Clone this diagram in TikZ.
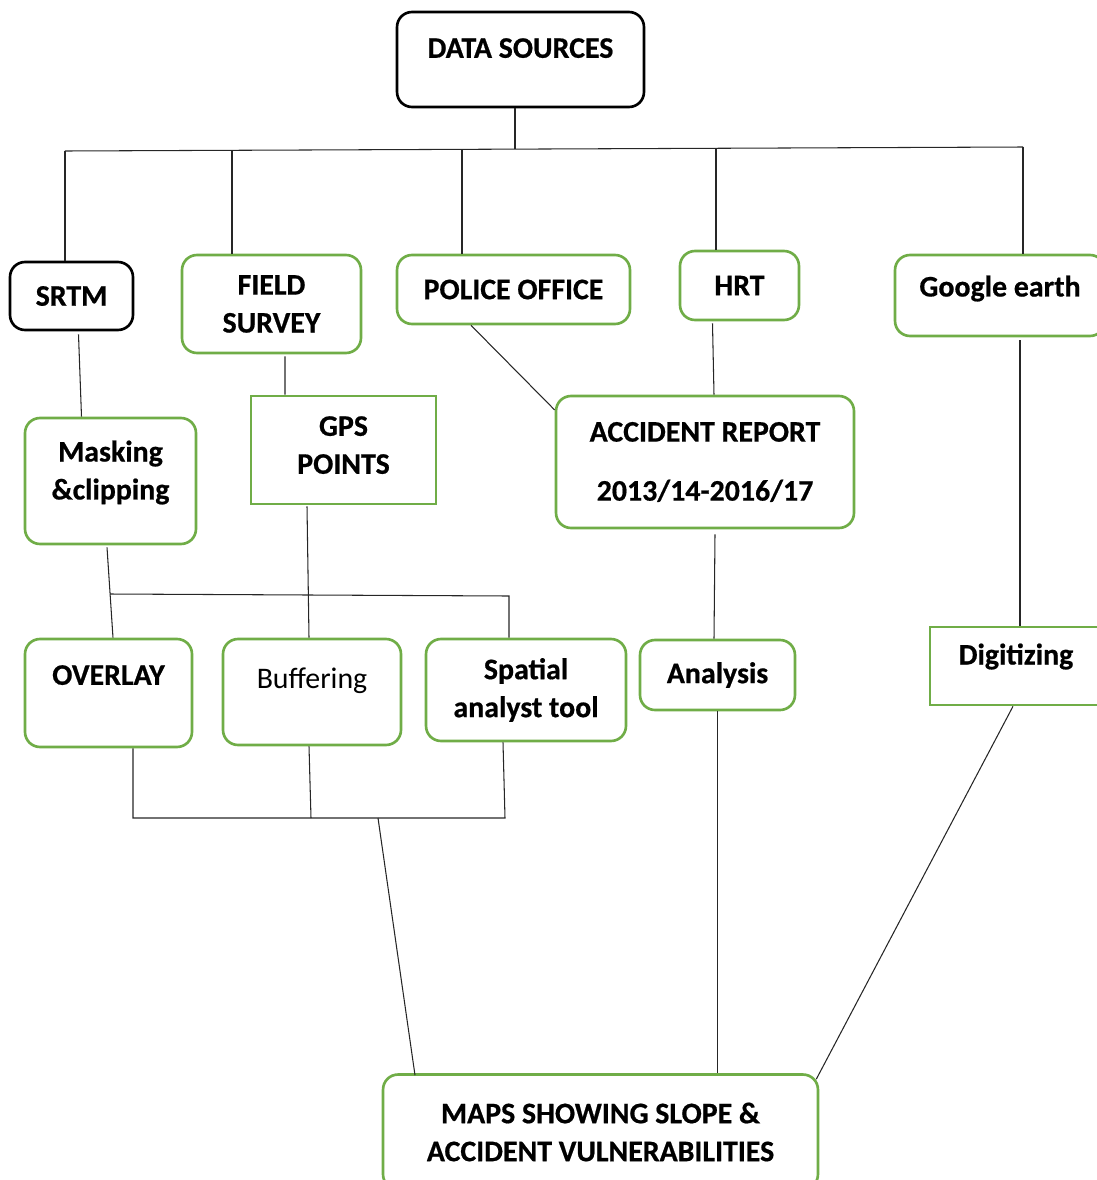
\documentclass[tikz,border=0pt]{standalone}
\usepackage{fontspec}
\setmainfont{Carlito}[BoldFeatures={FakeBold=0.6}]
\usetikzlibrary{calc}
\definecolor{boxgreen}{HTML}{70AD47}
\tikzset{
  gbox/.style = {draw=boxgreen, line width=1.5pt, rounded corners=0.3cm, fill=white,
                 font=\fontsize{17}{21.6}\selectfont\bfseries, align=center, inner sep=0pt},
  kbox/.style = {gbox, draw=black},
  sbox/.style = {gbox, rounded corners=0pt},
  conn/.style = {draw=black!85, line width=0.6pt}
}

\begin{document}
\begin{tikzpicture}[x=0.02cm, y=-0.02cm]
\useasboundingbox (0,0) rectangle (1097,1180);
\clip (0,0) rectangle (1097,1180);

% boxes
\node[kbox, minimum width=4.94cm, minimum height=1.9cm, text depth=0.46cm] (ds) at (520.5,59.5) {DATA SOURCES};
\node[kbox, minimum width=2.46cm, minimum height=1.36cm] (srtm) at (71.5,296) {SRTM};
\node[gbox, minimum width=3.58cm, minimum height=1.96cm] (field) at (271.5,304) {FIELD\\SURVEY};
\node[gbox, minimum width=4.66cm, minimum height=1.38cm] (police) at (513.5,289.5) {POLICE OFFICE};
\node[gbox, minimum width=2.38cm, minimum height=1.38cm] (hrt) at (739.5,285.5) {HRT};
\node[gbox, minimum width=4.2cm, minimum height=1.62cm, text depth=0.38cm] (google) at (1000,295.5) {Google earth};
\node[gbox, minimum width=3.42cm, minimum height=2.52cm, text depth=0.44cm] (mask) at (110.5,481) {Masking\\\&clipping};
\node[sbox, minimum width=3.7cm, minimum height=2.16cm, text depth=0.2cm] (gps) at (343.5,450) {GPS\\POINTS};
\node[gbox, minimum width=5.96cm, minimum height=2.64cm] (acc) at (705,462) {ACCIDENT REPORT\\[12pt]2013/14-2016/17};
\node[gbox, minimum width=3.34cm, minimum height=2.16cm, text depth=0.72cm] (ov) at (108.5,693) {OVERLAY};
\node[gbox, minimum width=3.56cm, minimum height=2.12cm, text depth=0.56cm, font=\fontsize{17}{21.6}\selectfont] (buf) at (312,692) {Buffering};
\node[gbox, minimum width=4.0cm, minimum height=2.04cm] (spat) at (526,690) {Spatial\\analyst tool};
\node[gbox, minimum width=3.1cm, minimum height=1.4cm] (ana) at (717.5,675) {Analysis};
\node[sbox, minimum width=3.44cm, minimum height=1.56cm, text depth=0.48cm] (dig) at (1016,666) {Digitizing};
\node[gbox, minimum width=8.7cm, minimum height=2.3cm] (maps) at (600.5,1132) {MAPS SHOWING SLOPE \&\\ACCIDENT VULNERABILITIES};

% top bus
\coordinate (t1) at (65,151);
\coordinate (t2) at (232,150.5);
\coordinate (t3) at (462,149.5);
\coordinate (t4) at (515,149);
\coordinate (t5) at (716,148);
\coordinate (t6) at (1023,147);
\draw[conn] (t1) -- (t6);
\draw[conn] (t4 |- ds.south) -- (t4);
\draw[conn] (t1) -- (t1 |- srtm.north);
\draw[conn] (t2) -- (t2 |- field.north);
\draw[conn] (t3) -- (t3 |- police.north);
\draw[conn] (t5) -- (t5 |- hrt.north);
\draw[conn] (t6) -- (t6 |- google.north);

% second row
\draw[conn] ($(srtm.south)+(7,3)$) -- ($(mask.north)+(-29,0)$);
\draw[conn] ($(field.south)+(13.5,2)$) -- ($(gps.north)+(-58.5,0)$);
\draw[conn] ($(police.south)+(-42.5,0)$) -- ($(acc.west)+(0,-52)$);
\draw[conn] ($(hrt.south)+(-27,2)$) -- ($(acc.north)+(9,0)$);
\draw[conn] ($(google.south)+(20,3)$) -- ($(dig.north)+(4,0)$);

% third row
\coordinate (m1) at (110,594);
\coordinate (m2) at (509,596);
\draw[conn] ($(mask.south)+(-3.5,2)$) -- ($(ov.north)+(4.5,0)$);
\draw[conn] (m1) -- (m2) -- (m2 |- spat.north);
\draw[conn] ($(gps.south)+(-36.5,1)$) -- ($(buf.north)+(-3,0)$);
\draw[conn] ($(acc.south)+(10,5)$) -- ($(ana.north)+(-3.5,0)$);

% lower bus
\coordinate (b1) at (133,818);
\coordinate (b2) at (311,818);
\coordinate (b3) at (505,818);
\coordinate (b4) at (378,818);
\draw[conn] (b1 |- ov.south) -- (b1) -- (b3) -- ($(spat.south)+(-23,0)$);
\draw[conn] ($(buf.south)+(-3,0)$) -- (b2);

% to maps
\draw[conn] (b4) -- ($(maps.north)+(-185.5,2)$);
\draw[conn] (ana.south) -- (ana.south |- maps.north);
\draw[conn] ($(dig.south)+(-3,0)$) -- ($(maps.north east)+(-3,6)$);
\end{tikzpicture}
\end{document}
